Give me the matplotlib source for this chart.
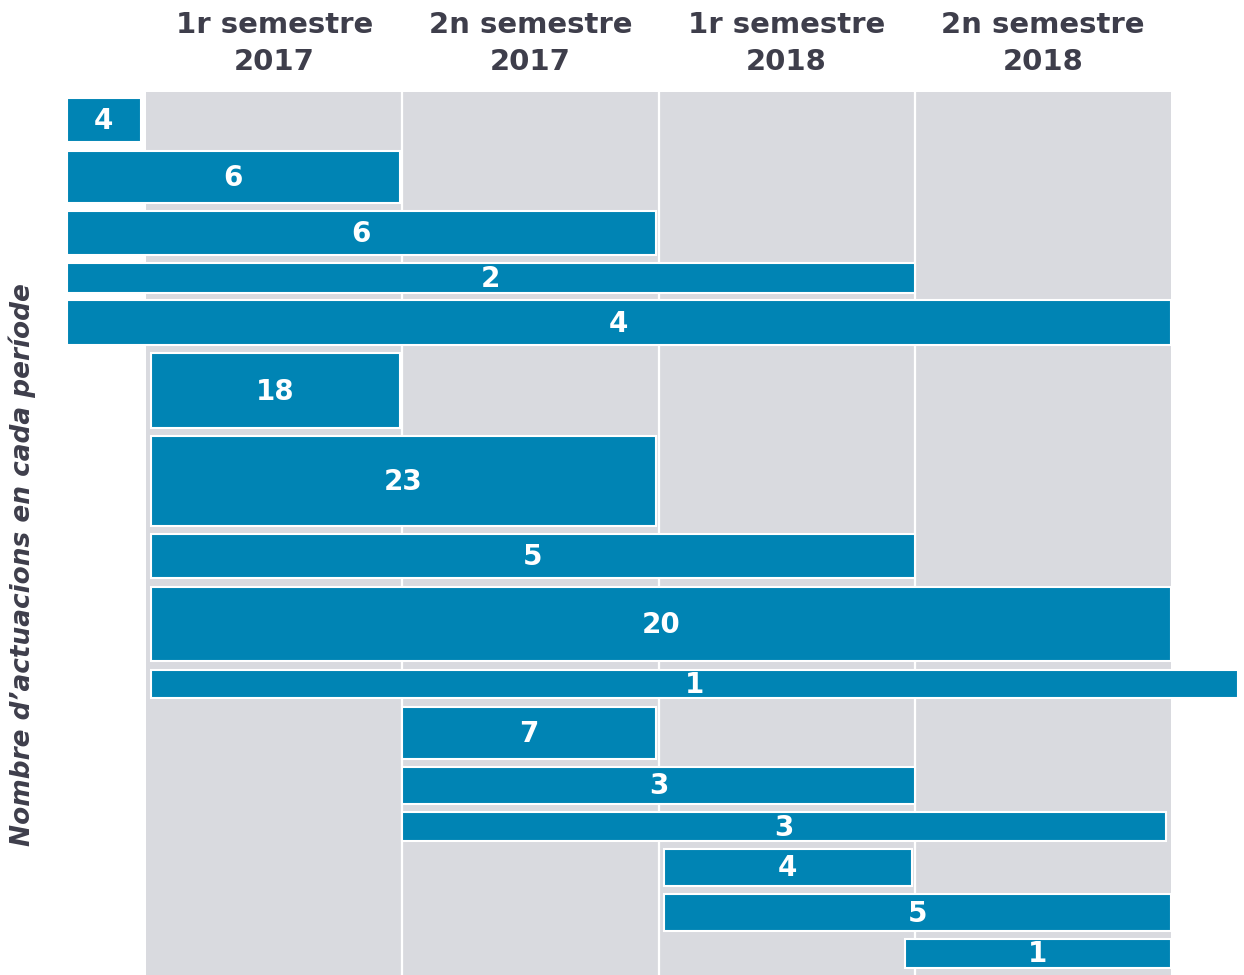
import matplotlib
matplotlib.use("Agg")
import matplotlib.pyplot as plt

# period headers
periods = ["1r semestre", "2n semestre", "1r semestre", "2n semestre"]
years = ["2017", "2017", "2018", "2018"]

# one bar per group of actions: count, first and last semester covered
# (semester units, 0 = start of 1r semestre 2017; values < 0 = earlier)
counts = [4, 6, 6, 2, 4, 18, 23, 5, 20, 1, 7, 3, 3, 4, 5, 1]
starts = [-0.31, -0.31, -0.31, -0.31, -0.31, 0.02, 0.02, 0.02, 0.02, 0.02,
          1.0, 1.0, 1.0, 2.02, 2.02, 2.96]
ends = [-0.02, 0.99, 1.99, 3.0, 4.0, 0.99, 1.99, 3.0, 4.0, 4.26,
        1.99, 3.0, 3.98, 2.99, 4.0, 4.0]

# layout: vertical extent of every bar, in pixels from the top
row_top = [98, 151, 211, 263, 300, 353, 436, 534, 587, 670, 707, 767, 812, 849, 894, 939]
row_bot = [142, 203, 255, 293, 345, 428, 526, 578, 661, 698, 759, 804, 841, 886, 931, 968]

BAR = "#0084b4"
GREY = "#d9dadf"
TEXT = "#3e3e4b"

W, H = 1244, 975
X0, COL = 146, 256.25  # pixel of semester 0, pixels per semester

fig = plt.figure(figsize=(W / 100, H / 100), dpi=100)
ax = fig.add_axes([0, 0, 1, 1])
ax.set_xlim(-X0 / COL, (W - X0) / COL)
ax.set_ylim(H, 0)
ax.axis("off")

# grey background with white separators
ax.axvspan(0, 4, ymin=0, ymax=1 - 92 / H, color=GREY, zorder=0, lw=0)
for k in (1, 2, 3):
    ax.axvline(k, ymin=0, ymax=1 - 92 / H, color="white", lw=1.6, zorder=1)

for k, (name, year) in enumerate(zip(periods, years)):
    ax.text(k + 0.5, 25, name, ha="center", va="center", fontsize=21,
            fontweight="bold", color=TEXT)
    ax.text(k + 0.5, 62, year, ha="center", va="center", fontsize=21,
            fontweight="bold", color=TEXT)

for n, s, e, top, bot in zip(counts, starts, ends, row_top, row_bot):
    ax.barh((top + bot) / 2, e - s, left=s, height=bot - top, color=BAR,
            edgecolor="white", linewidth=1.5, zorder=2)
    ax.text((s + e) / 2, (top + bot) / 2 + 1, str(n), ha="center", va="center",
            fontsize=20, fontweight="bold", color="white", zorder=3)

fig.text(22 / W, 1 - 565 / H, "Nombre d\u2019actuacions en cada per\u00edode",
         rotation=90, ha="center", va="center", fontsize=19,
         fontweight="bold", fontstyle="italic", color=TEXT)

fig.savefig("out.png", dpi=100)
